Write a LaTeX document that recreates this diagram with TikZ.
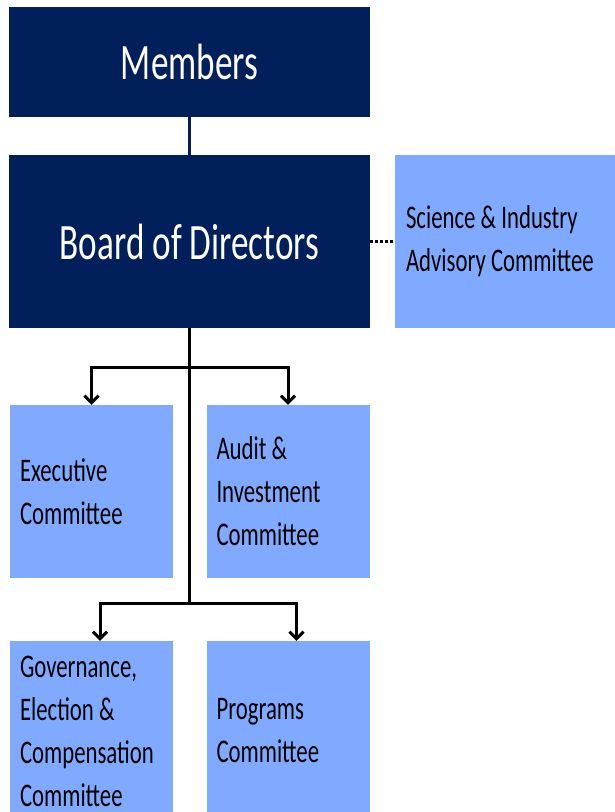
\documentclass[tikz,border=0pt]{standalone}
\usepackage{fontspec}
\setmainfont{Carlito}[FakeStretch=0.69]
\usetikzlibrary{arrows.meta}

\definecolor{boardnavy}{RGB}{0,31,91}
\definecolor{committeeblue}{RGB}{128,170,255}

\tikzset{
	topbox/.style={rectangle, fill=boardnavy, text=white, minimum width=361pt, inner sep=0pt, font=\fontsize{51}{60}\selectfont},
	subbox/.style={rectangle, fill=committeeblue, text=black, align=flush left, text width=143pt, inner xsep=10pt, inner ysep=0pt, font=\fontsize{33}{43}\selectfont},
	conn/.style={line width=3pt, black},
	barb/.style={-{Straight Barb[length=7pt, width=14pt]}},
}

\begin{document}
\begin{tikzpicture}[x=1pt, y=-1pt]
	\useasboundingbox (0, 0) rectangle (615, 812);

	% Boxes:
	\node[topbox, minimum height=110pt] (members) at (189.5, 62) {Members};
	\node[topbox, minimum height=173pt] (board) at (189.5, 241.5) {Board of Directors};
	\node[subbox, text width=210pt, inner xsep=11pt, minimum height=173pt] (advisory) at (511, 241.5) {Science \& Industry\\Advisory Committee};

	\node[subbox, minimum height=173pt] (executive) at (91.5, 491.5) {Executive\\Committee};
	\node[subbox, minimum height=173pt] (audit) at (288, 491.5) {Audit \&\\Investment\\Committee};
	\node[subbox, minimum height=180pt] (governance) at (91.5, 731) {Governance,\\Election \&\\Compensation\\Committee};
	\node[subbox, minimum height=180pt] (programs) at (288, 731) {Programs\\Committee};

	\coordinate (split1) at (189.5, 367);
	\coordinate (split2) at (189.5, 603);

	% Connectors:
	\draw[line width=2.5pt, boardnavy] (members.south) -- (board.north);
	\draw[conn, dash pattern=on 3pt off 2pt] (board.east) -- (advisory.west);
	\draw[conn] (board.south) -- (split2);

	\draw[conn, barb] (split1) -| (executive.north);
	\draw[conn, barb] (split1) -| (audit.north);
	\draw[conn, barb] (split2) -| ([xshift=8.5pt]governance.north);
	\draw[conn, barb] (split2) -| ([xshift=8.5pt]programs.north);

\end{tikzpicture}
\end{document}
